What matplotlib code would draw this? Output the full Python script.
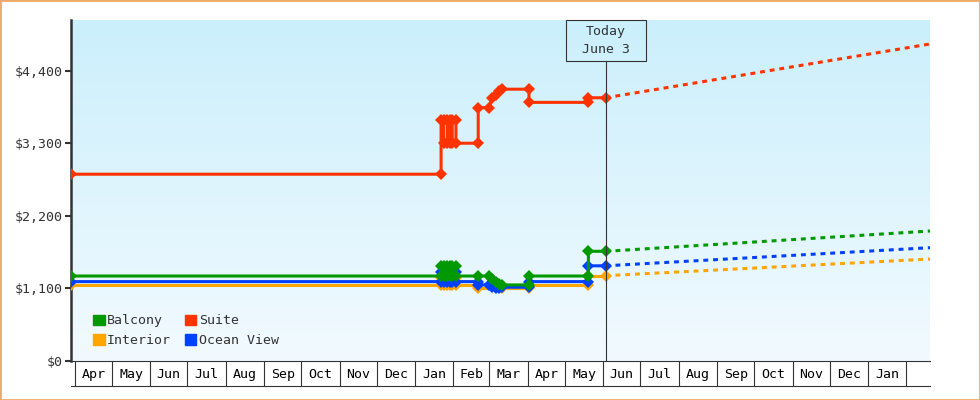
import matplotlib
matplotlib.use("Agg")
import matplotlib.pyplot as plt
import matplotlib.dates as mdates
import numpy as np
import pandas as pd
from matplotlib.patches import Rectangle, Patch
from matplotlib.colors import LinearSegmentedColormap

plt.rcParams['font.family'] = ['DejaVu Sans Mono']

# fare history; a date shows up twice where the fare changed that day
suite_dates = ["2023-03-29", "2024-01-22", "2024-01-22", "2024-01-24", "2024-01-24",
               "2024-01-27", "2024-01-27", "2024-01-29", "2024-01-29", "2024-01-31",
               "2024-01-31", "2024-02-03", "2024-02-03", "2024-02-21", "2024-02-21",
               "2024-03-01", "2024-03-03", "2024-03-06", "2024-03-09", "2024-03-11",
               "2024-04-02", "2024-04-02", "2024-05-20", "2024-05-20", "2024-06-03"]
suite_vals = [2830, 2830, 3650, 3650, 3300, 3300, 3650, 3650, 3300, 3300, 3650, 3650,
              3300, 3300, 3840, 3840, 3990, 4030, 4090, 4120, 4120, 3920, 3920, 3990, 3990]

balcony_dates = ["2023-03-29", "2024-01-22", "2024-01-22", "2024-01-24", "2024-01-24",
                 "2024-01-27", "2024-01-27", "2024-01-29", "2024-01-29", "2024-01-31",
                 "2024-01-31", "2024-02-03", "2024-02-03", "2024-02-21", "2024-03-01",
                 "2024-03-03", "2024-03-06", "2024-03-09", "2024-03-11", "2024-04-02",
                 "2024-04-02", "2024-05-20", "2024-05-20", "2024-06-03"]
balcony_vals = [1285, 1285, 1440, 1440, 1285, 1285, 1440, 1440, 1285, 1285, 1440, 1440,
                1285, 1285, 1285, 1240, 1200, 1170, 1150, 1150, 1285, 1285, 1660, 1660]

ocean_dates = ["2023-03-29", "2024-01-22", "2024-01-22", "2024-01-24", "2024-01-24",
               "2024-01-27", "2024-01-27", "2024-01-29", "2024-01-29", "2024-01-31",
               "2024-01-31", "2024-02-03", "2024-02-03", "2024-02-21", "2024-02-21",
               "2024-03-01", "2024-03-03", "2024-03-06", "2024-03-09", "2024-03-11",
               "2024-04-02", "2024-04-02", "2024-05-20", "2024-05-20", "2024-06-03"]
ocean_vals = [1200, 1200, 1340, 1340, 1200, 1200, 1340, 1340, 1200, 1200, 1340, 1340,
              1200, 1200, 1150, 1150, 1115, 1100, 1100, 1115, 1115, 1200, 1200, 1440, 1440]

interior_dates = ["2023-03-29", "2024-01-22", "2024-01-22", "2024-01-24", "2024-01-24",
                  "2024-01-27", "2024-01-27", "2024-01-29", "2024-01-29", "2024-01-31",
                  "2024-01-31", "2024-02-03", "2024-02-03", "2024-02-21", "2024-02-21",
                  "2024-03-11", "2024-04-02", "2024-04-02", "2024-05-20", "2024-05-20",
                  "2024-06-03"]
interior_vals = [1150, 1150, 1250, 1250, 1150, 1150, 1250, 1250, 1150, 1150, 1250, 1250,
                 1150, 1150, 1100, 1100, 1100, 1150, 1150, 1290, 1290]

# projected fares from today to the end of the range
forecast_dates = ["2024-06-03", "2025-02-20"]
suite_fc = [3990, 4806]
balcony_fc = [1660, 1968]
ocean_fc = [1440, 1715]
interior_fc = [1290, 1543]

month_labels = ["Apr", "May", "Jun", "Jul", "Aug", "Sep", "Oct", "Nov", "Dec", "Jan", "Feb",
                "Mar", "Apr", "May", "Jun", "Jul", "Aug", "Sep", "Oct", "Nov", "Dec", "Jan"]
y_ticks = [0, 1100, 2200, 3300, 4400]
today = pd.Timestamp("2024-06-03")

GREEN, RED, ORANGE, BLUE = "#009900", "#ff3300", "#ffa500", "#0040ff"
INK = "#333333"

fig = plt.figure(figsize=(9.8, 4), dpi=100)
ax = fig.add_axes([71 / 980, 39.3 / 400, 859 / 980, 340.7 / 400])

# light blue gradient behind the plot
bg = LinearSegmentedColormap.from_list("bg", ["#cbeffc", "#f2faff"])
ax.imshow(np.linspace(0, 1, 256).reshape(-1, 1), cmap=bg, extent=[0, 1, 0, 1],
          transform=ax.transAxes, aspect="auto", zorder=0)

series = [
    (interior_dates, interior_vals, interior_fc, ORANGE, 3),
    (ocean_dates, ocean_vals, ocean_fc, BLUE, 4),
    (suite_dates, suite_vals, suite_fc, RED, 5),
    (balcony_dates, balcony_vals, balcony_fc, GREEN, 6),
]
for dates, vals, fc, col, z in series:
    ax.plot(pd.to_datetime(dates), vals, color=col, lw=2.2, marker="D", ms=6,
            mew=0, zorder=z)
    ax.plot(pd.to_datetime(forecast_dates), fc, color=col, lw=2.2, dashes=[1.6, 1.6],
            zorder=z)

ax.set_xlim(pd.Timestamp("2023-03-29"), pd.Timestamp("2025-02-20"))
ax.set_ylim(0, 5170)

# month boxes under the axis
starts = pd.date_range("2023-04-01", "2025-02-01", freq="MS")
mids = starts[:-1] + (starts[1:] - starts[:-1]) / 2
ax.set_xticks(starts)
ax.set_xticklabels([])
ax.set_xticks(mids, minor=True)
ax.set_xticklabels(month_labels, minor=True)
ax.tick_params(axis="x", which="major", length=18, width=0.8, color=INK, direction="out")
ax.tick_params(axis="x", which="minor", length=0, pad=5, labelsize=9.5, labelcolor="black")
ax.plot([0, 1], [-25 / 340.7] * 2, transform=ax.transAxes, clip_on=False, color=INK, lw=0.8)

ax.set_yticks(y_ticks)
ax.set_yticklabels([f"${v:,}" for v in y_ticks])
ax.tick_params(axis="y", length=4.3, width=1.5, color=INK, pad=1.7, labelsize=9.5,
               labelcolor=INK)

for s in ["top", "right"]:
    ax.spines[s].set_visible(False)
ax.spines["left"].set_linewidth(1.8)
ax.spines["left"].set_color(INK)
ax.spines["bottom"].set_linewidth(0.8)
ax.spines["bottom"].set_color(INK)

# today marker
xt = ax.get_xaxis_transform()
ax.axvline(today, ymin=0, ymax=0.8805, color=INK, lw=0.8, zorder=7)
d = mdates.date2num(today)
ax.add_patch(Rectangle((d - 32.3, 0.8805), 64.6, 0.1195, transform=xt, fill=False,
                       ec=INK, lw=0.8, clip_on=False, zorder=7))
ax.text(today, 0.9403, "Today\nJune 3", transform=xt, ha="center", va="center",
        fontsize=9.5, linespacing=1.45, color=INK, zorder=8)

handles = [Patch(color=GREEN, label="Balcony"), Patch(color=ORANGE, label="Interior"),
           Patch(color=RED, label="Suite"), Patch(color=BLUE, label="Ocean View")]
ax.legend(handles=handles, ncol=2, loc="lower left", bbox_to_anchor=(0.026, 0.04),
          frameon=False, fontsize=9.5, handlelength=0.85, handleheight=0.85,
          handletextpad=0.2, columnspacing=1.05, labelspacing=0.5, borderpad=0,
          borderaxespad=0, labelcolor=INK)

fig.patches.append(Rectangle((0, 0), 1, 1, transform=fig.transFigure, fill=False,
                             ec="#eeaa66", lw=2))

fig.savefig("out.png", dpi=100)
